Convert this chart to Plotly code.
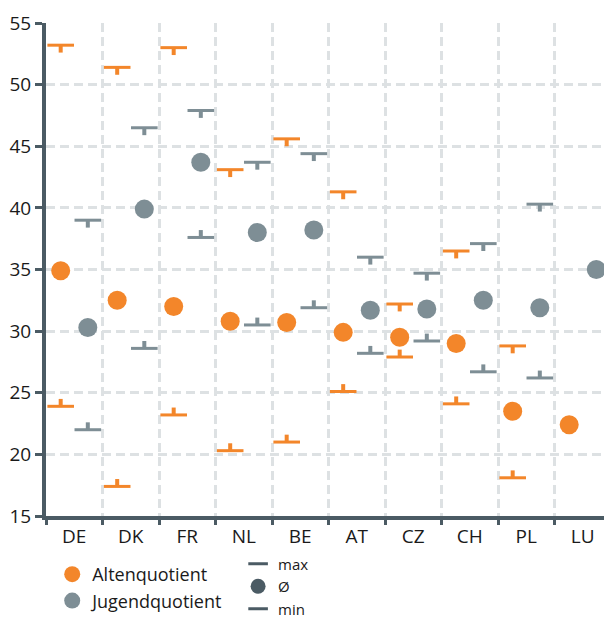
import numpy as np
import plotly.graph_objects as go

countries = ["DE", "DK", "FR", "NL", "BE", "AT", "CZ", "CH", "PL", "LU"]

alt_avg = [34.9, 32.5, 32.0, 30.8, 30.7, 29.9, 29.5, 29.0, 23.5, 22.4]
alt_max = [53.2, 51.4, 53.0, 43.1, 45.6, 41.3, 32.2, 36.5, 28.8, None]
alt_min = [23.9, 17.4, 23.2, 20.3, 21.0, 25.1, 27.9, 24.1, 18.1, None]

jug_avg = [30.3, 39.9, 43.7, 38.0, 38.2, 31.7, 31.8, 32.5, 31.9, 35.0]
jug_max = [39.0, 46.5, 47.9, 43.7, 44.4, 36.0, 34.7, 37.1, 40.3, None]
jug_min = [22.0, 28.6, 37.6, 30.5, 31.9, 28.2, 29.2, 26.7, 26.2, None]

ORANGE = "#F3862A"
GREY = "#7E8E95"
DARK = "#4B5B64"
GRID = "#DDE1E3"
FONT = "Open Sans"

idx = np.arange(len(countries))
off = 0.24
stem = 0.6

traces = []


def add_series(name, xs, avg, mx, mn, color):
    # max: horizontal bar with a short stem pointing down
    traces.append(go.Scatter(
        x=xs, y=mx, mode="markers", showlegend=False, hoverinfo="skip",
        marker=dict(symbol="line-ew", size=19, line=dict(width=3, color=color)),
        error_y=dict(type="constant", symmetric=False, value=0, valueminus=stem,
                     width=0, thickness=4, color=color),
    ))
    # min: horizontal bar with a short stem pointing up
    traces.append(go.Scatter(
        x=xs, y=mn, mode="markers", showlegend=False, hoverinfo="skip",
        marker=dict(symbol="line-ew", size=19, line=dict(width=3, color=color)),
        error_y=dict(type="constant", symmetric=False, value=stem, valueminus=0,
                     width=0, thickness=4, color=color),
    ))
    traces.append(go.Scatter(
        x=xs, y=avg, mode="markers", name=name, legend="legend",
        marker=dict(symbol="circle", size=19, color=color, line=dict(width=0)),
    ))


add_series("Altenquotient", idx - off, alt_avg, alt_max, alt_min, ORANGE)
add_series("Jugendquotient", idx + off, jug_avg, jug_max, jug_min, GREY)

# key for the marker types
traces.append(go.Scatter(x=[None], y=[None], mode="markers", name="max", legend="legend2",
                         marker=dict(symbol="line-ew", size=14, line=dict(width=3, color=DARK))))
traces.append(go.Scatter(x=[None], y=[None], mode="markers", name="Ø", legend="legend2",
                         marker=dict(symbol="circle", size=15, color=DARK)))
traces.append(go.Scatter(x=[None], y=[None], mode="markers", name="min", legend="legend2",
                         marker=dict(symbol="line-ew", size=14, line=dict(width=3, color=DARK))))

fig = go.Figure(traces)

# page body keeps an 8px margin, so the figure is 8px smaller than the window
fig.update_layout(
    width=604, height=613,
    margin=dict(l=38, r=1, t=15, b=105, autoexpand=False),
    plot_bgcolor="white", paper_bgcolor="white",
    font=dict(family=FONT, size=19, color="#1A1A1A"),
    xaxis=dict(
        range=[-0.5, 9.5], tickmode="array", tickvals=idx, ticktext=countries,
        ticks="", showgrid=False, zeroline=False, automargin=False,
        showline=True, linecolor=DARK, linewidth=4,
        tickfont=dict(size=19),
        minor=dict(tickvals=list(idx - 0.5) + [len(countries) - 0.5], ticks="outside",
                   ticklen=5, tickwidth=3, tickcolor=DARK,
                   showgrid=True, gridcolor=GRID, gridwidth=3, griddash="9px,5px"),
    ),
    yaxis=dict(
        range=[15, 55], dtick=5, ticks="outside", ticklen=7, tickwidth=3, tickcolor=DARK,
        showline=True, linecolor=DARK, linewidth=4, zeroline=False, automargin=False,
        showgrid=True, gridcolor=GRID, gridwidth=3, griddash="9px,5px",
        tickfont=dict(size=19),
    ),
    legend=dict(
        x=0.011, y=-0.081, xanchor="left", yanchor="top", orientation="v",
        font=dict(size=18), bgcolor="rgba(0,0,0,0)", itemwidth=30,
    ),
    legend2=dict(
        x=0.34, y=-0.064, xanchor="left", yanchor="top", orientation="v",
        font=dict(size=15), bgcolor="rgba(0,0,0,0)", itemwidth=30,
    ),
)

fig.write_html("out.html")
